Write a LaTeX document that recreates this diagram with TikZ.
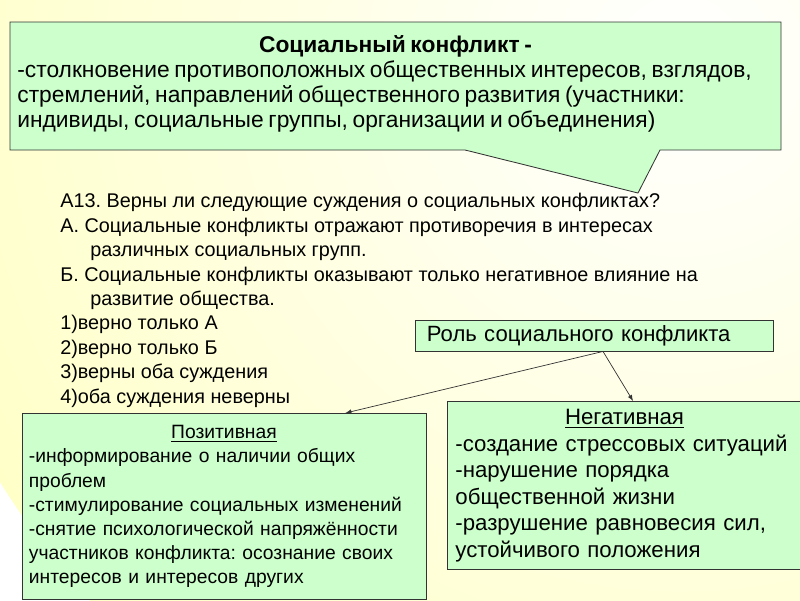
\documentclass[tikz,border=0pt]{standalone}
\usepackage{fontspec}
\setmainfont{Liberation Sans}
\usetikzlibrary{arrows,positioning}
\frenchspacing

\definecolor{boxgreen}{RGB}{204,255,204}
\definecolor{bgyellow}{RGB}{255,255,200}

\begin{document}
\begin{tikzpicture}[x=0.025cm,y=-0.025cm]
	\tikzstyle{greenbox}
	  =[draw=black!80, fill=boxgreen, line width=0.6pt, inner sep=0pt]
	\tikzstyle{link}
	  =[draw=black!80, line width=0.5pt, -latex]

	% background
	\useasboundingbox (0,0) rectangle (800,600);
	\begin{scope}
	  \clip (0,0) rectangle (800,600);
	  \shade[inner color=white, outer color=bgyellow] (680,60) circle (20cm);
	\end{scope}

	% callout
	\coordinate (tip) at (638,193);
	\draw[greenbox] (10,22) -- (781,22) -- (781,150) -- (660,150)
	  -- (tip) -- (465,150) -- (10,150) -- cycle;
	\node[inner sep=0pt, text width=18.9cm] (def)
	  at (395.5,84) {\fontsize{16.2}{17.8}\selectfont
	  \centering\textbf{Социальный конфликт -}\par
	  \raggedright -столкновение противоположных общественных интересов, взглядов,\\
	  стремлений, направлений общественного развития (участники:\\
	  индивиды, социальные группы, организации и объединения)\par};

	\node[anchor=north west, inner sep=0pt, align=left,
	  font=\fontsize{14.1}{17.4}\selectfont] (quest)
	  at (60,193) {А13. Верны ли следующие суждения о социальных конфликтах?\\
	  А. Социальные конфликты отражают противоречия в интересах\\
	  \hspace*{0.75cm}различных социальных групп.\\
	  Б. Социальные конфликты оказывают только негативное влияние на\\
	  \hspace*{0.75cm}развитие общества.\\
	  1)верно только А\\
	  2)верно только Б\\
	  3)верны оба суждения\\
	  4)оба суждения неверны};

	\node[greenbox, minimum width=8.95cm, minimum height=0.775cm,
	  text width=8.35cm, align=left, font=\fontsize{15.7}{17}\selectfont] (role)
	  at (594,335.5) {Роль социального конфликта};

	\node[greenbox, anchor=north, minimum width=10.1cm, text width=9.75cm,
	  inner ysep=0.3cm, font=\fontsize{13.7}{17.2}\selectfont] (pos)
	  at (224,413) {\centering\underline{Позитивная}\par
	  \raggedright -информирование о наличии общих\\
	  проблем\\
	  -стимулирование социальных изменений\\
	  -снятие психологической напряжённости\\
	  участников конфликта: осознание своих\\
	  интересов и интересов других\par\vspace*{0.6cm}};

	\node[greenbox, anchor=north west, minimum width=8.85cm, text width=8.45cm,
	  inner ysep=0.2cm, font=\fontsize{15.8}{18.85}\selectfont] (neg)
	  at (447,401) {\centering\underline{Негативная}\par
	  \raggedright -создание стрессовых ситуаций\\
	  -нарушение порядка\\
	  общественной жизни\\
	  -разрушение равновесия сил,\\
	  устойчивого положения\par};

	\draw[link] ([xshift=0.225cm]role.south) -- ([xshift=-2.025cm]pos.north east);
	\draw[link] ([xshift=0.225cm]role.south) -- ([xshift=4.65cm]neg.north west);
\end{tikzpicture}
\end{document}
